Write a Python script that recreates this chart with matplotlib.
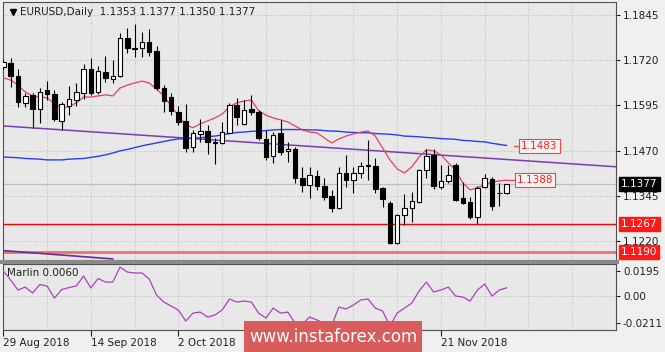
import numpy as np
import pandas as pd
import matplotlib
matplotlib.use("Agg")
import matplotlib.pyplot as plt
from matplotlib.patches import Rectangle
from matplotlib.transforms import blended_transform_factory

# EURUSD daily candles, 29 Aug 2018 onwards
opens = [1.1701, 1.1712, 1.1676, 1.1602, 1.1624, 1.1585, 1.1638, 1.1627, 1.1552, 1.1593,
         1.1610, 1.1629, 1.1696, 1.1632, 1.1687, 1.1668, 1.1676, 1.1781, 1.1754, 1.1754,
         1.1770, 1.1745, 1.1643, 1.1618, 1.1577, 1.1552, 1.1480, 1.1516, 1.1524, 1.1494,
         1.1491, 1.1519, 1.1596, 1.1544, 1.1585, 1.1577, 1.1502, 1.1455, 1.1519, 1.1469,
         1.1474, 1.1394, 1.1375, 1.1400, 1.1372, 1.1344, 1.1311, 1.1408, 1.1389, 1.1408,
         1.1427, 1.1427, 1.1367, 1.1325, 1.1215, 1.1292, 1.1311, 1.1328, 1.1416, 1.1458,
         1.1369, 1.1386, 1.1430, 1.1339, 1.1328, 1.1286, 1.1369, 1.1391, 1.1353, 1.1353]
highs = [1.1721, 1.1726, 1.1696, 1.1629, 1.1629, 1.1643, 1.1662, 1.1638, 1.1604, 1.1649,
         1.1657, 1.1710, 1.1726, 1.1704, 1.1732, 1.1721, 1.1795, 1.1809, 1.1820, 1.1798,
         1.1806, 1.1759, 1.1651, 1.1629, 1.1593, 1.1599, 1.1527, 1.1557, 1.1541, 1.1505,
         1.1549, 1.1602, 1.1616, 1.1610, 1.1624, 1.1582, 1.1527, 1.1521, 1.1555, 1.1494,
         1.1480, 1.1425, 1.1425, 1.1416, 1.1394, 1.1361, 1.1425, 1.1458, 1.1425, 1.1439,
         1.1499, 1.1450, 1.1369, 1.1331, 1.1295, 1.1350, 1.1356, 1.1419, 1.1474, 1.1474,
         1.1430, 1.1430, 1.1436, 1.1383, 1.1342, 1.1372, 1.1405, 1.1397, 1.1380, 1.1377]
lows = [1.1696, 1.1646, 1.1591, 1.1591, 1.1533, 1.1546, 1.1610, 1.1552, 1.1527, 1.1568,
        1.1593, 1.1613, 1.1624, 1.1627, 1.1660, 1.1657, 1.1674, 1.1740, 1.1729, 1.1729,
        1.1732, 1.1638, 1.1577, 1.1568, 1.1541, 1.1466, 1.1466, 1.1494, 1.1461, 1.1433,
        1.1488, 1.1519, 1.1541, 1.1541, 1.1568, 1.1499, 1.1444, 1.1436, 1.1458, 1.1439,
        1.1380, 1.1356, 1.1339, 1.1361, 1.1333, 1.1300, 1.1309, 1.1369, 1.1353, 1.1394,
        1.1389, 1.1353, 1.1314, 1.1212, 1.1212, 1.1264, 1.1273, 1.1325, 1.1394, 1.1364,
        1.1364, 1.1380, 1.1331, 1.1323, 1.1281, 1.1267, 1.1367, 1.1306, 1.1317, 1.1350]
closes = [1.1715, 1.1676, 1.1604, 1.1621, 1.1585, 1.1632, 1.1627, 1.1557, 1.1599, 1.1613,
          1.1632, 1.1696, 1.1629, 1.1690, 1.1671, 1.1676, 1.1781, 1.1754, 1.1752, 1.1770,
          1.1743, 1.1643, 1.1607, 1.1580, 1.1549, 1.1477, 1.1519, 1.1524, 1.1494, 1.1491,
          1.1521, 1.1596, 1.1563, 1.1582, 1.1577, 1.1505, 1.1452, 1.1513, 1.1466, 1.1474,
          1.1394, 1.1375, 1.1403, 1.1372, 1.1342, 1.1311, 1.1408, 1.1389, 1.1408, 1.1427,
          1.1430, 1.1364, 1.1336, 1.1215, 1.1292, 1.1311, 1.1331, 1.1416, 1.1455, 1.1372,
          1.1386, 1.1403, 1.1333, 1.1325, 1.1286, 1.1367, 1.1394, 1.1317, 1.1352, 1.1377]

# moving averages
red_ma = [1.1671, 1.1665, 1.1651, 1.1632, 1.1621, 1.1618, 1.1616, 1.1599, 1.1588, 1.1591,
          1.1602, 1.1618, 1.1618, 1.1621, 1.1624, 1.1621, 1.1643, 1.1651, 1.1657, 1.1662,
          1.1657, 1.1640, 1.1621, 1.1593, 1.1566, 1.1541, 1.1533, 1.1544, 1.1552, 1.1560,
          1.1571, 1.1591, 1.1602, 1.1607, 1.1610, 1.1580, 1.1568, 1.1560, 1.1555, 1.1549,
          1.1538, 1.1527, 1.1521, 1.1519, 1.1505, 1.1491, 1.1502, 1.1510, 1.1516, 1.1521,
          1.1524, 1.1510, 1.1477, 1.1444, 1.1419, 1.1408, 1.1425, 1.1452, 1.1472, 1.1469,
          1.1458, 1.1436, 1.1416, 1.1380, 1.1361, 1.1367, 1.1375, 1.1383, 1.1386, 1.1388]
blue_ma = [1.1452, 1.1451, 1.1450, 1.1448, 1.1447, 1.1446, 1.1444, 1.1444, 1.1444, 1.1446,
           1.1447, 1.1448, 1.1451, 1.1454, 1.1458, 1.1463, 1.1469, 1.1473, 1.1478, 1.1483,
           1.1487, 1.1491, 1.1495, 1.1499, 1.1502, 1.1503, 1.1505, 1.1505, 1.1508, 1.1510,
           1.1513, 1.1517, 1.1520, 1.1521, 1.1523, 1.1524, 1.1525, 1.1527, 1.1528, 1.1528,
           1.1528, 1.1528, 1.1527, 1.1527, 1.1525, 1.1524, 1.1523, 1.1521, 1.1520, 1.1519,
           1.1519, 1.1517, 1.1516, 1.1515, 1.1513, 1.1510, 1.1509, 1.1508, 1.1506, 1.1505,
           1.1503, 1.1502, 1.1501, 1.1498, 1.1497, 1.1495, 1.1494, 1.1490, 1.1487, 1.1484]

marlin = [0.0191, 0.0121, 0.0043, 0.0066, 0.0020, 0.0086, 0.0074, -0.0020, 0.0047, 0.0062,
          0.0074, 0.0152, 0.0059, 0.0133, 0.0105, 0.0105, 0.0222, 0.0183, 0.0176, 0.0176,
          0.0129, 0.0004, -0.0051, -0.0082, -0.0113, -0.0199, -0.0137, -0.0129, -0.0168, -0.0152,
          -0.0113, -0.0027, -0.0051, -0.0043, -0.0051, -0.0137, -0.0176, -0.0098, -0.0137, -0.0129,
          -0.0215, -0.0222, -0.0168, -0.0191, -0.0215, -0.0238, -0.0090, -0.0105, -0.0074, -0.0035,
          -0.0027, -0.0098, -0.0121, -0.0238, -0.0137, -0.0098, -0.0059, 0.0035, 0.0105, 0.0027,
          0.0043, 0.0066, -0.0004, -0.0012, -0.0043, 0.0043, 0.0090, -0.0004, 0.0043, 0.0060]

# drawn objects
trend_bars = [0, 84]
trend_prices = [1.1538, 1.1425]
trend2_bars = [0, 15]
trend2_prices = [1.1193, 1.1170]
support_1 = 1.1267
support_2 = 1.1190
blue_label = 1.1483
red_label = 1.1388

price_ticks = [1.1845, 1.1720, 1.1595, 1.1470, 1.1345, 1.1220]
marlin_ticks = [0.0195, 0.0, -0.0211]
marlin_tick_labels = ["0.0195", "0.00", "-0.0211"]
label_dates = ["2018-08-29", "2018-09-14", "2018-10-02", "2018-10-18", "2018-11-05", "2018-11-21"]
date_labels = ["29 Aug 2018", "14 Sep 2018", "2 Oct 2018", "18 Oct 2018", "5 Nov 2018", "21 Nov 2018"]

dates = pd.bdate_range("2018-08-29", periods=len(closes))
x = np.arange(len(dates))
tick_pos = [dates.get_loc(pd.Timestamp(d)) for d in label_dates]

plt.rcParams["font.family"] = "DejaVu Sans"
plt.rcParams["font.size"] = 7.5

W, H = 665, 352
fig = plt.figure(figsize=(W / 100, H / 100), dpi=100, facecolor="#f0f0f0")
ax = fig.add_axes([3 / W, (H - 260) / H, 613 / W, 258 / H])
ax2 = fig.add_axes([3 / W, (H - 330) / H, 613 / W, 66 / H])

bg = "#e8e8e8"
grid_kw = dict(color="#c4c4c4", lw=0.6, ls=(0, (2, 2)), zorder=0)
xmax = 84
for a in (ax, ax2):
    a.set_facecolor(bg)
    a.set_xlim(-0.05, xmax)
    for s in a.spines.values():
        s.set_color("#505050")
        s.set_linewidth(0.8)
    a.yaxis.tick_right()
    a.tick_params(axis="y", length=3, pad=2, colors="#202020", labelsize=7.5)
    for g in range(0, xmax + 1, 6):
        a.axvline(g, **grid_kw)

# price panel
ax.set_ylim(1.1167, 1.1881)
ax.set_yticks(price_ticks)
ax.set_yticklabels([f"{t:.4f}" for t in price_ticks])
ax.set_xticks([])
for t in price_ticks:
    ax.axhline(t, **grid_kw)

ax.axhline(closes[-1], color="#c0c0c0", lw=0.9, zorder=1)
ax.axhline(support_1, color="#ff0000", lw=1.0, zorder=2)
ax.axhline(support_2, color="#f07070", lw=2.0, zorder=2)

ax.plot(trend_bars, trend_prices, color="#7d3cb5", lw=1.1, zorder=2)
ax.plot(trend2_bars, trend2_prices, color="#6a2aa0", lw=1.2, zorder=2)
ax.plot(x, blue_ma, color="#2b3cff", lw=1.0, zorder=3)
ax.plot(x, red_ma, color="#e8405c", lw=0.9, zorder=3)

# candles
o = np.array(opens)
c = np.array(closes)
ax.vlines(x, lows, highs, color="black", lw=0.8, zorder=4)
up = c >= o
body_h = np.maximum(np.abs(c - o), 0.00003)
ax.bar(x, body_h, bottom=np.minimum(o, c), width=0.62,
       color=np.where(up, "white", "black"), edgecolor="black", linewidth=0.8, zorder=5)

# level labels beside last bars
last = x[-1]
ax.plot([last + 1.0, last + 1.9], [blue_label, blue_label], color="#ff5050", lw=1.0, zorder=3)
ax.text(last + 2.0, blue_label, f"{blue_label:.4f}", color="#ff2020", fontsize=7.5,
        va="center", ha="left", zorder=6,
        bbox=dict(boxstyle="square,pad=0.2", fc="#f4f4f4", ec="#ff4040", lw=0.8))
ax.plot([last, last + 1.3], [red_ma[-1], red_label], color="#e8405c", lw=0.9, zorder=3)
ax.text(last + 1.4, red_label, f"{red_label:.4f}", color="#ff2020", fontsize=7.5,
        va="center", ha="left", zorder=6,
        bbox=dict(boxstyle="square,pad=0.2", fc="#f4f4f4", ec="#ff4040", lw=0.8))

# right axis value boxes
tr = blended_transform_factory(ax.transAxes, ax.transData)
box_x = 1 + 5 / 613
ax.text(box_x, closes[-1], f"{closes[-1]:.4f}", transform=tr, color="white", fontsize=7.5,
        va="center", ha="left", clip_on=False, zorder=7,
        bbox=dict(boxstyle="square,pad=0.2", fc="black", ec="black"))
for lvl in (support_1, support_2):
    ax.text(box_x, lvl, f"{lvl:.4f}", transform=tr, color="white", fontsize=7.5,
            va="center", ha="left", clip_on=False, zorder=7,
            bbox=dict(boxstyle="square,pad=0.2", fc="#ff1a1a", ec="#ff1a1a"))

# title
ax.plot([10 / 613], [1 - 10 / 258], marker="v", color="black", markersize=4.5,
        transform=ax.transAxes, clip_on=False)
ax.text(17 / 613, 1 - 10 / 258, "EURUSD,Daily  1.1353 1.1377 1.1350 1.1377",
        transform=ax.transAxes, va="center", ha="left", color="#202020", fontsize=7.5)

# Marlin panel
ax2.set_ylim(-0.0269, 0.0246)
ax2.set_yticks(marlin_ticks)
ax2.set_yticklabels(marlin_tick_labels)
ax2.axhline(0, **grid_kw)
ax2.plot(x, marlin, color="#b040c0", lw=0.9, zorder=3)
ax2.text(4 / 613, 0.86, "Marlin 0.0060", transform=ax2.transAxes, va="center", ha="left",
         color="#202020", fontsize=7.5)
ax2.set_xticks(tick_pos)
ax2.set_xticklabels(date_labels, ha="left")
ax2.tick_params(axis="x", length=4, pad=2, colors="#202020", labelsize=7.5)

# separator band between panels
fig.patches.append(Rectangle((0, (H - 264) / H), 619 / W, 4 / H, transform=fig.transFigure,
                             fc="#8a8a8a", ec="none", zorder=2))

# watermark
fig.patches.append(Rectangle((244 / W, 0), 178 / W, 31 / H, transform=fig.transFigure,
                             fc="#d95c5c", ec="none", zorder=2))
fig.text(333 / W, 15 / H, "www.instaforex.com", color="white", fontsize=12,
         ha="center", va="center", zorder=3)

fig.savefig("out.png", dpi=100, facecolor=fig.get_facecolor())
